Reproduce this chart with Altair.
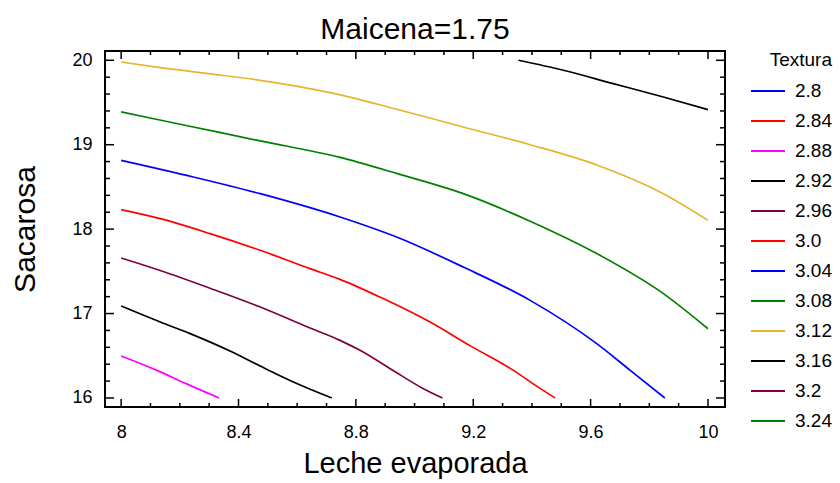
import altair as alt
import pandas as pd

# Contour levels of Textura (legend order) and their line colours
levels = ["2.8", "2.84", "2.88", "2.92", "2.96", "3.0", "3.04", "3.08", "3.12", "3.16", "3.2", "3.24"]
colors = ["#0000FF", "#FF0000", "#FF00FF", "#000000", "#800040", "#FF0000",
          "#0000FF", "#008000", "#E6B52E", "#000000", "#800040", "#008000"]

# Contour traces: Leche evaporada (x) vs Sacarosa (y), Maicena fixed at 1.75
c288_x = [8.0, 8.122, 8.229, 8.334]
c288_y = [16.497, 16.327, 16.158, 16.0]

c292_x = [8.0, 8.133, 8.235, 8.371, 8.474, 8.587, 8.718]
c292_y = [17.089, 16.90, 16.762, 16.556, 16.378, 16.19, 16.0]

c296_x = [8.0, 8.133, 8.303, 8.474, 8.644, 8.746, 8.814, 8.917, 9.03, 9.095]
c296_y = [17.658, 17.51, 17.30, 17.077, 16.828, 16.682, 16.564, 16.347, 16.11, 16.0]

c300_x = [8.0, 8.133, 8.303, 8.474, 8.644, 8.746, 8.882, 9.053, 9.189, 9.337, 9.416, 9.479]
c300_y = [18.231, 18.124, 17.947, 17.749, 17.532, 17.405, 17.195, 16.899, 16.62, 16.327, 16.14, 16.0]

c304_x = [8.0, 8.246, 8.474, 8.746, 8.939, 9.166, 9.394, 9.621, 9.734, 9.853]
c304_y = [18.815, 18.618, 18.42, 18.144, 17.906, 17.551, 17.156, 16.643, 16.33, 16.0]

c308_x = [8.0, 8.246, 8.474, 8.746, 8.939, 9.166, 9.394, 9.621, 9.848, 10.0]
c308_y = [19.388, 19.21, 19.045, 18.85, 18.66, 18.42, 18.094, 17.71, 17.236, 16.82]

c312_x = [8.0, 8.133, 8.303, 8.474, 8.729, 8.939, 9.166, 9.394, 9.621, 9.848, 10.0]
c312_y = [19.98, 19.913, 19.84, 19.763, 19.605, 19.42, 19.21, 19.0, 18.76, 18.42, 18.104]

c316_x = [9.354, 9.507, 9.677, 9.848, 10.0]
c316_y = [20.0, 19.882, 19.724, 19.565, 19.416]

traces = {
    "2.88": (c288_x, c288_y),
    "2.92": (c292_x, c292_y),
    "2.96": (c296_x, c296_y),
    "3.0": (c300_x, c300_y),
    "3.04": (c304_x, c304_y),
    "3.08": (c308_x, c308_y),
    "3.12": (c312_x, c312_y),
    "3.16": (c316_x, c316_y),
}

# Axis tick positions
x_major = [8.0, 8.4, 8.8, 9.2, 9.6, 10.0]
x_minor = [8.1, 8.2, 8.3, 8.5, 8.6, 8.7, 8.9, 9.0, 9.1, 9.3, 9.4, 9.5, 9.7, 9.8, 9.9]
y_major = [16, 17, 18, 19, 20]
y_minor = [16.2, 16.4, 16.6, 16.8, 17.2, 17.4, 17.6, 17.8, 18.2, 18.4, 18.6, 18.8,
           19.2, 19.4, 19.6, 19.8]

rows = []
for lev, (xs, ys) in traces.items():
    for i, (xv, yv) in enumerate(zip(xs, ys)):
        rows.append({"x": xv, "y": yv, "Textura": lev, "i": i})
df = pd.DataFrame(rows)

W, H = 620, 356
FONT = "Liberation Sans"

xscale = alt.Scale(domain=[7.945, 10.058], nice=False, zero=False)
yscale = alt.Scale(domain=[15.893, 20.11], nice=False, zero=False)

xaxis = alt.Axis(values=x_major, format="~g", domain=False, ticks=False, grid=False,
                 labelFontSize=18, labelPadding=16, labelFont=FONT, labelColor="black",
                 titleFontSize=29, titleFont=FONT, titleFontWeight="normal",
                 titleColor="black", titleY=65, titleBaseline="alphabetic")
yaxis = alt.Axis(values=y_major, format="~g", domain=False, ticks=False, grid=False,
                 labelFontSize=18, labelPadding=13, labelFont=FONT, labelColor="black",
                 titleFontSize=30, titleFont=FONT, titleFontWeight="normal",
                 titleColor="black", titleX=-80, titleY=H / 2,
                 titleBaseline="middle", titleAngle=270)
XT = "Leche evaporada"
YT = "Sacarosa"

lines = alt.Chart(df).mark_line(strokeWidth=1.7, interpolate="monotone").encode(
    x=alt.X("x:Q", scale=xscale, title=XT, axis=xaxis),
    y=alt.Y("y:Q", scale=yscale, title=YT, axis=yaxis),
    color=alt.Color("Textura:N", sort=levels,
                    scale=alt.Scale(domain=levels, range=colors),
                    legend=alt.Legend(title="Textura", orient="right", offset=25, padding=0,
                                      symbolType="stroke", symbolSize=1156,
                                      symbolStrokeWidth=2, labelFontSize=19, labelFont=FONT,
                                      labelOffset=9, titleFontSize=19, titleFont=FONT,
                                      titleFontWeight="normal", titleAnchor="end",
                                      titlePadding=3, rowPadding=2, labelColor="black",
                                      titleColor="black")),
    detail="Textura:N",
    order="i:Q",
)


def xticks(vals, length, top):
    d = pd.DataFrame({"v": vals})
    y0 = 0 if top else H
    y1 = length if top else H - length
    return alt.Chart(d).mark_rule(color="black", strokeWidth=1.5).encode(
        x=alt.X("v:Q", scale=xscale, title=XT, axis=xaxis),
        y=alt.value(y0), y2=alt.value(y1))


def yticks(vals, length, right):
    d = pd.DataFrame({"v": vals})
    x0 = W if right else 0
    x1 = W - length if right else length
    return alt.Chart(d).mark_rule(color="black", strokeWidth=1.5).encode(
        y=alt.Y("v:Q", scale=yscale, title=YT, axis=yaxis),
        x=alt.value(x0), x2=alt.value(x1))


tick_layers = [
    xticks(x_major, 8, False), xticks(x_minor, 4, False),
    xticks(x_major, 8, True), xticks(x_minor, 4, True),
    yticks(y_major, 9, False), yticks(y_minor, 5, False),
    yticks(y_major, 9, True), yticks(y_minor, 5, True),
]

chart = alt.layer(lines, *tick_layers).properties(
    width=W, height=H,
    background="white",
    title=alt.Title("Maicena=1.75", fontSize=30, font=FONT, fontWeight="normal",
                    color="black", offset=5),
    autosize=alt.AutoSizeParams(type="none"),
    padding={"left": 105, "top": 51, "right": 115, "bottom": 76},
).configure_view(stroke="black", strokeWidth=2)

chart.save("out.html", embed_options={"renderer": "svg", "actions": False})
